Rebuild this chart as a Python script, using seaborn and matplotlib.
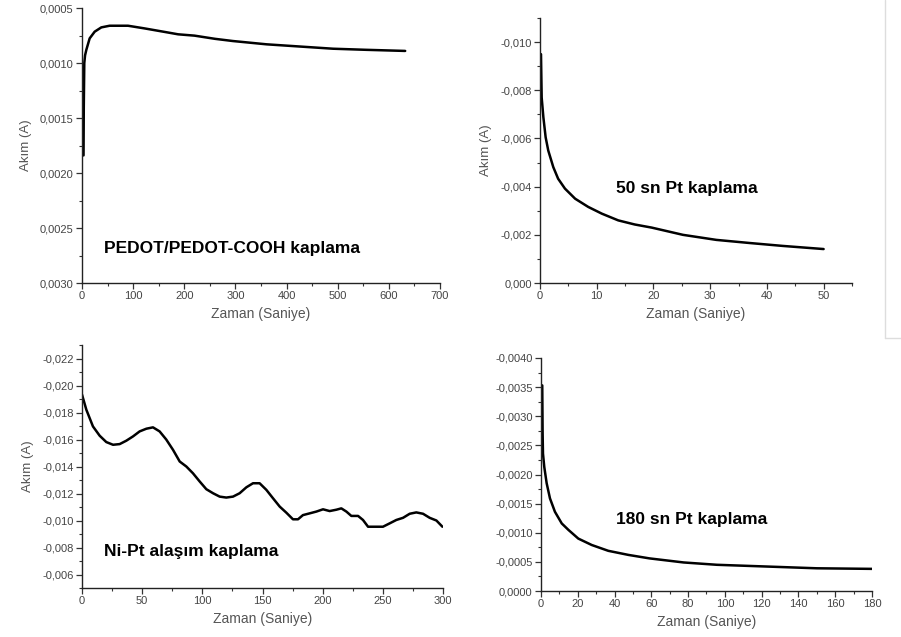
import numpy as np
import pandas as pd
import matplotlib
matplotlib.use("Agg")
import matplotlib.pyplot as plt
import seaborn as sns
from matplotlib.ticker import MultipleLocator, FuncFormatter
from matplotlib.lines import Line2D

# ---- data ----
t_pedot = [3, 3.5, 4.5, 6, 8.5, 15, 24.8, 37.8, 54, 90, 122, 165, 188, 220, 260, 295, 361,
           426, 491, 556, 632]
i_pedot = [0.00184, 0.00140, 0.00100, 0.00093, 0.00088, 0.000776, 0.000715, 0.000676, 0.000661,
           0.000661, 0.000685, 0.00072, 0.000739, 0.000751, 0.00078, 0.00080, 0.00083, 0.00085,
           0.00087, 0.00088, 0.00089]

t_50 = [0.18, 0.3, 0.6, 1.0, 1.46, 2.35, 3.2, 4.4, 6.2, 8.5, 10.9, 13.8, 16.7, 19.7, 25.2,
        31.1, 37.0, 42.8, 50.0]
i_50 = [-0.0095, -0.0077, -0.00688, -0.00605, -0.0055, -0.00481, -0.00433, -0.00392, -0.0035,
        -0.00316, -0.00288, -0.0026, -0.00243, -0.0023, -0.0020, -0.00179, -0.00166, -0.00154,
        -0.00141]

t_nipt = [0, 3.6, 9.1, 14.7, 20.2, 25.8, 31.3, 36.8, 42.4, 47.9, 53.5, 59, 64.5, 70, 75.6, 81.2,
          86.7, 92.2, 97.8, 103.3, 108.9, 114.4, 119.9, 125.5, 131, 136.6, 142.1, 147.6, 153.2,
          158.7, 164.3, 169.8, 175.3, 179.5, 183.6, 189.2, 194.7, 200.3, 205.8, 211.4, 215.5,
          219.7, 223.8, 229.4, 233.5, 237.7, 250.1, 255.7, 261.2, 266.8, 272.3, 277.8, 283.4,
          288.9, 294.5, 299.5]
i_nipt = [-0.01933, -0.01821, -0.01697, -0.01628, -0.01581, -0.01561, -0.01566, -0.01591,
          -0.01623, -0.0166, -0.0168, -0.0169, -0.0166, -0.0160, -0.01524, -0.01437, -0.0140,
          -0.0135, -0.01289, -0.01232, -0.01202, -0.01177, -0.0117, -0.01177, -0.01202,
          -0.01246, -0.01276, -0.01276, -0.01227, -0.01165, -0.01103, -0.01058, -0.01009,
          -0.01009, -0.0104, -0.01053, -0.01066, -0.01083, -0.0107, -0.0108, -0.0109,
          -0.01066, -0.01034, -0.01034, -0.01004, -0.00954, -0.00954, -0.00979, -0.01004,
          -0.0102, -0.0105, -0.0106, -0.0105, -0.0102, -0.0100, -0.00954]

t_180 = [0.7, 0.9, 1.1, 1.8, 3.1, 4.9, 7.6, 11.3, 14.9, 20.3, 27.6, 36.6, 47.5, 59, 77.6, 95.7,
         113.8, 132, 150, 180]
i_180 = [-0.00353, -0.0027, -0.00236, -0.00213, -0.00185, -0.00159, -0.00136, -0.00116,
         -0.00105, -0.0009, -0.00079, -0.00069, -0.00062, -0.00056, -0.00049, -0.00045,
         -0.00043, -0.00041, -0.00039, -0.00038]

titles = ["PEDOT/PEDOT-COOH kaplama", "50 sn Pt kaplama", "Ni-Pt alaşım kaplama", "180 sn Pt kaplama"]
xlabel = "Zaman (Saniye)"
ylabel = "Akım (A)"

# ---- style ----
sns.set_style("ticks")
plt.rcParams["font.family"] = ["Liberation Sans", "DejaVu Sans"]

fig = plt.figure(figsize=(9.01, 6.37), dpi=100)

panels = [
    dict(t=t_pedot, i=i_pedot, rect=[0.091, 0.5557, 0.3973, 0.4317], xlim=(0, 700), ylim=(0.003, 0.0005),
         xmaj=100, xmin=50, ymaj=0.0005, ymin=0.00025, dec=4, text=(0.061, 0.124), ylab=True),
    dict(t=t_50, i=i_50, rect=[0.5993, 0.5557, 0.3463, 0.416], xlim=(0, 55), ylim=(0, -0.011),
         xmaj=10, xmin=5, ymaj=0.002, ymin=0.001, dec=3, text=(0.244, 0.358), ylab=True),
    dict(t=t_nipt, i=i_nipt, rect=[0.091, 0.0769, 0.4007, 0.3815], xlim=(0, 300), ylim=(-0.005, -0.023),
         xmaj=50, xmin=25, ymaj=0.002, ymin=0.001, dec=3, text=(0.061, 0.152), ylab=True),
    dict(t=t_180, i=i_180, rect=[0.6004, 0.0722, 0.3674, 0.3658], xlim=(0, 180), ylim=(0, -0.004),
         xmaj=20, xmin=10, ymaj=0.0005, ymin=0.00025, dec=4, text=(0.227, 0.305), ylab=False),
]

for p, title in zip(panels, titles):
    ax = fig.add_axes(p["rect"])
    df = pd.DataFrame({"t": p["t"], "i": p["i"]})
    sns.lineplot(data=df, x="t", y="i", ax=ax, color="black", linewidth=1.8, sort=False)
    ax.set_xlim(*p["xlim"])
    ax.set_ylim(*p["ylim"])
    ax.xaxis.set_major_locator(MultipleLocator(p["xmaj"]))
    ax.xaxis.set_minor_locator(MultipleLocator(p["xmin"]))
    ax.yaxis.set_major_locator(MultipleLocator(p["ymaj"]))
    ax.yaxis.set_minor_locator(MultipleLocator(p["ymin"]))
    dec = p["dec"]
    ax.yaxis.set_major_formatter(FuncFormatter(
        lambda v, pos, d=dec: ("{:.%df}" % d).format(0.0 if abs(v) < 1e-12 else v).replace(".", ",")))
    ax.xaxis.set_major_formatter(FuncFormatter(lambda v, pos: "%d" % round(v)))
    ax.tick_params(which="major", direction="out", length=4, width=0.9, color="#333333",
                   labelsize=8, labelcolor="#444444", pad=2)
    ax.tick_params(which="minor", direction="out", length=2, width=0.8, color="#333333")
    for s in ["top", "right"]:
        ax.spines[s].set_visible(False)
    for s in ["left", "bottom"]:
        ax.spines[s].set_color("#222222")
        ax.spines[s].set_linewidth(1.0)
    ax.set_xlabel(xlabel, fontsize=10, color="#555555", labelpad=4)
    if p["ylab"]:
        ax.set_ylabel(ylabel, fontsize=9.5, color="#555555", labelpad=6)
    else:
        ax.set_ylabel("")
    ax.text(p["text"][0], p["text"][1], title, transform=ax.transAxes, fontsize=12.5,
            fontweight="bold", color="black", va="center", ha="left")

# faint frame artefact at the top-right edge
fig.add_artist(Line2D([885 / 901, 885 / 901], [1.0, 1 - 338 / 637], transform=fig.transFigure,
                      color="#dddddd", linewidth=1))
fig.add_artist(Line2D([885 / 901, 1.0], [1 - 338 / 637, 1 - 338 / 637], transform=fig.transFigure,
                      color="#dddddd", linewidth=1))

fig.savefig("out.png", dpi=100)
